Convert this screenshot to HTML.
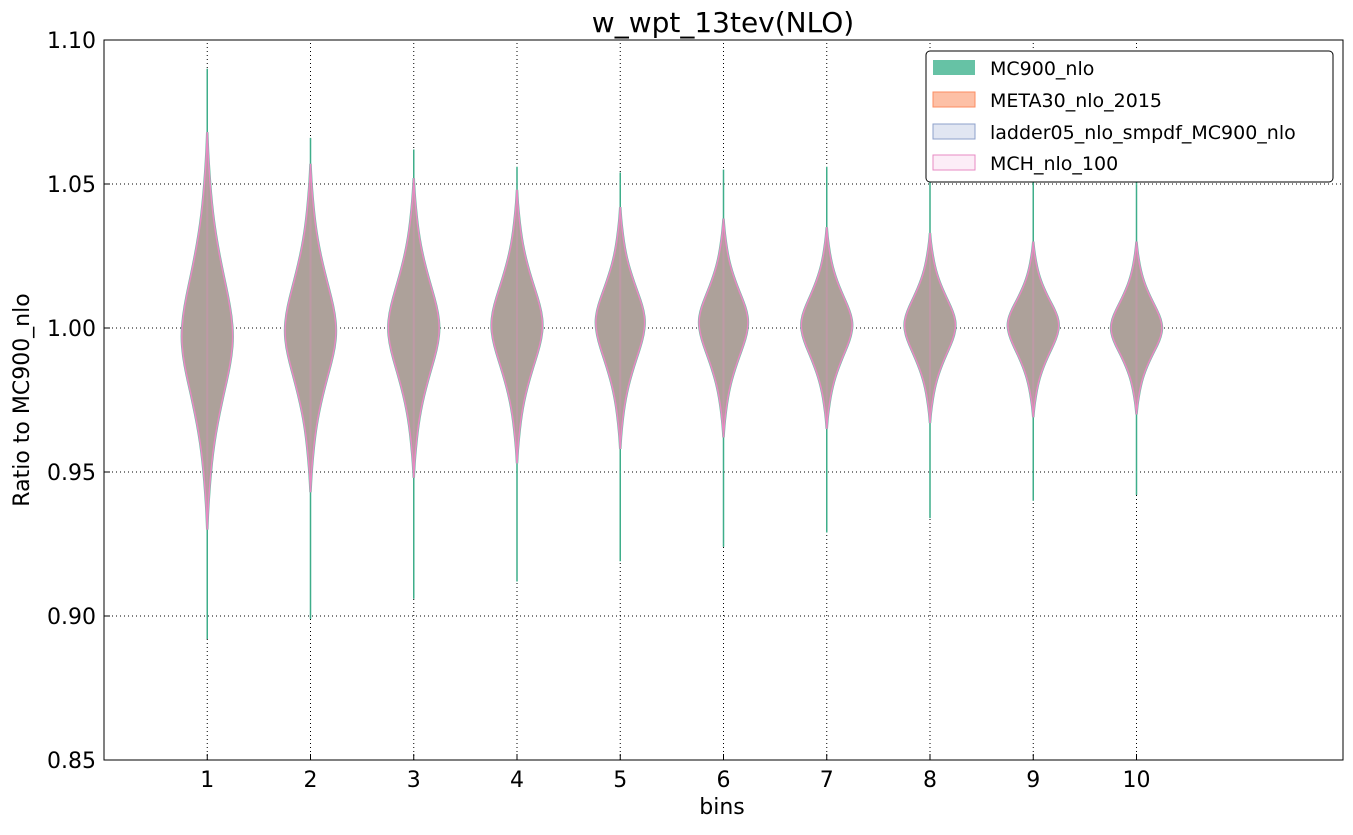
<!DOCTYPE html>
<html><head><meta charset="utf-8"><style>
body{margin:0;background:#fff;}
svg{font-family:"DejaVu Sans","Liberation Sans",sans-serif;}
</style></head><body>
<svg id="chart" width="1353" height="830" xmlns="http://www.w3.org/2000/svg">
<rect x="0" y="0" width="1353" height="830" fill="#fff"/>
<text x="723" y="32" font-size="28" text-anchor="middle">w_wpt_13tev(NLO)</text>
<g id="grid"></g>
<g id="violins"></g>
<rect x="104" y="40" width="1239" height="720" fill="none" stroke="#000" stroke-width="1"/>
<g id="axes"></g>
<text x="722" y="814" font-size="22" text-anchor="middle">bins</text>
<text transform="translate(29,400) rotate(-90)" font-size="22" text-anchor="middle">Ratio to MC900_nlo</text>
<g>
<rect x="926" y="51" width="407" height="131" rx="4" fill="#fff" stroke="#000" stroke-width="1"/>
<g><rect x="933" y="60" width="42" height="15" fill="#66c2a5"/><text x="990" y="75" font-size="19">MC900_nlo</text></g>
<g><rect x="933" y="92" width="42" height="15" fill="#fdc0a6" stroke="#fc8d62"/><text x="990" y="107" font-size="19">META30_nlo_2015</text></g>
<g><rect x="933" y="124" width="42" height="15" fill="#e1e6f2" stroke="#8da0cb"/><text x="990" y="139" font-size="19">ladder05_nlo_smpdf_MC900_nlo</text></g>
<g><rect x="933" y="155" width="42" height="15" fill="#fcedf7" stroke="#e78ac3"/><text x="990" y="170" font-size="19">MCH_nlo_100</text></g>
</g>
</svg>
<script>
const bins = [1,2,3,4,5,6,7,8,9,10];
const mcMin = [0.892,0.899,0.906,0.912,0.919,0.924,0.929,0.934,0.940,0.942];
const mcMax = [1.090,1.066,1.062,1.056,1.054,1.055,1.056,1.058,1.060,1.060];
const vMin = [0.930,0.943,0.948,0.953,0.958,0.962,0.965,0.967,0.969,0.970];
const vMax = [1.068,1.057,1.052,1.048,1.042,1.038,1.035,1.033,1.030,1.030];
const vCenter = [0.997,0.999,1.000,1.001,1.002,1.002,1.001,1.001,1.001,1.000];
const vHalfWidth = [0.25,0.25,0.25,0.25,0.24,0.24,0.25,0.25,0.25,0.25];
const profileLevels = [0,0.1,0.2,0.3,0.4,0.5,0.6,0.7,0.8,0.9,1];
const profileWidths = [1,0.94,0.8,0.63,0.47,0.33,0.22,0.14,0.08,0.03,0];
const yTicks = [0.85,0.90,0.95,1.00,1.05,1.10];
const yTickLabels = ["0.85","0.90","0.95","1.00","1.05","1.10"];

const NS="http://www.w3.org/2000/svg";
const X0=104,X1=1343,Y0=760,Y1=40;
const xs=v=>X0+(v-0)/(12-0)*(X1-X0);
const ys=v=>Y0-(v-0.85)/(1.10-0.85)*(Y0-Y1);
function mk(tag,attrs,parent){const e=document.createElementNS(NS,tag);for(const k in attrs)e.setAttribute(k,attrs[k]);parent.appendChild(e);return e;}
const grid=document.getElementById('grid'),axes=document.getElementById('axes'),vg=document.getElementById('violins');

yTicks.forEach((t,i)=>{
  const y=ys(t);
  if(i>0&&i<yTicks.length-1){const l=mk('line',{x1:X0,x2:X1,y1:y,y2:y,stroke:'#000','stroke-width':1,'stroke-dasharray':'1,3'},grid);
  
  }
  const tk=mk('line',{x1:X0,x2:X0+6,y1:y,y2:y,stroke:'#000'},axes);
  
  
  const tx=mk('text',{x:X0-8,y:y+8,'font-size':22,'text-anchor':'end'},axes);
  tx.textContent=yTickLabels[i];
  
  
});
bins.forEach(b=>{
  const x=xs(b);
  const l=mk('line',{x1:x,x2:x,y1:Y0,y2:Y1,stroke:'#000','stroke-width':1,'stroke-dasharray':'1,3'},grid);
  
  
  const tk=mk('line',{x1:x,x2:x,y1:Y0,y2:Y0-6,stroke:'#000'},axes);
  
  
  const tx=mk('text',{x:x,y:Y0+27,'font-size':22,'text-anchor':'middle'},axes);
  tx.textContent=String(b);
  
  
});
bins.forEach((b,i)=>{
  const cx=xs(b),hw=xs(vHalfWidth[i])-xs(0);
  const g=mk('g',{},vg);
  
  
  const ln=mk('line',{x1:cx,x2:cx,y1:ys(mcMin[i]),y2:ys(mcMax[i]),stroke:'#3fae8a','stroke-width':1.5},g);
  
  
  const right=[],left=[];
  for(let k=profileLevels.length-1;k>=0;k--){const v=vCenter[i]+profileLevels[k]*(vMax[i]-vCenter[i]);right.push([cx+hw*profileWidths[k],ys(v)]);}
  for(let k=1;k<profileLevels.length;k++){const v=vCenter[i]-profileLevels[k]*(vCenter[i]-vMin[i]);right.push([cx+hw*profileWidths[k],ys(v)]);}
  for(let k=right.length-1;k>=0;k--)left.push([2*cx-right[k][0],right[k][1]]);
  const pts=right.concat(left);
  let d='M'+pts[0][0]+','+pts[0][1];
  for(let k=1;k<pts.length;k++){const p0=pts[k-1],p1=pts[k];const my=(p0[1]+p1[1])/2;d+=' Q'+p0[0]+','+p0[1]+' '+((p0[0]+p1[0])/2)+','+my;}
  d+=' Z';
  const green=mk('path',{d:d,fill:'#66c2a5',stroke:'#66c2a5','stroke-width':2.5},g);
  
  
  const p=mk('path',{d:d,fill:'#ada19a',stroke:'#e78ac3','stroke-width':1.5},g);
  
  
  const c=mk('line',{x1:cx,x2:cx,y1:ys(vMin[i]),y2:ys(vMax[i]),stroke:'#e78ac3','stroke-width':2,opacity:0.3},g);
  
  
});
</script>
</body></html>
